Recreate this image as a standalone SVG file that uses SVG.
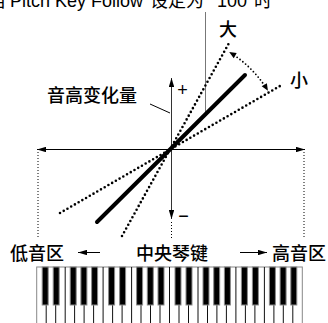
<svg xmlns="http://www.w3.org/2000/svg" width="328" height="323" viewBox="0 0 328 323">
  <style>
    .lbl { font-family: "Liberation Sans", "Noto Sans CJK SC", sans-serif; font-size: 18px; fill: #000; }
    .cjk { font-family: "Noto Sans CJK SC", "Liberation Sans", sans-serif; font-size: 18px; font-weight: 500; fill: #000; }
    .dots { fill: none; stroke: #000; stroke-width: 2.6; stroke-linecap: round; stroke-dasharray: 0 4.3; }
    .fine { fill: none; stroke: #000; stroke-width: 1; stroke-dasharray: 1 2; }
    .axis { fill: none; stroke: #000; stroke-width: 1; }
    .wkey { stroke: #111; stroke-width: 1; }
    .bkey { fill: #000; stroke: #8a8a8a; stroke-width: 1; }
  </style>
  <defs>
    <marker id="ah" viewBox="0 0 10 6" refX="10" refY="3" markerUnits="userSpaceOnUse" markerWidth="9" markerHeight="5.5" orient="auto-start-reverse">
      <path d="M0,0 L10,3 L0,6 Z" fill="#000"/>
    </marker>
  </defs>
  <rect width="328" height="323" fill="#fff"/>

  <!-- heading, clipped by the top edge -->
  <g id="title">
    <text class="lbl" y="7" font-size="19.5"><tspan x="-12" font-family="Noto Sans CJK SC, sans-serif">当</tspan><tspan x="10">Pitch Key Follow</tspan><tspan x="150" font-family="Noto Sans CJK SC, sans-serif">设定为</tspan><tspan x="217">100</tspan><tspan x="254" font-family="Noto Sans CJK SC, sans-serif">时</tspan></text>
  </g>

  <g id="connectors">
    <!-- leader from heading down to the key-follow curve -->
    <line x1="205.5" y1="12" x2="205.5" y2="112" stroke="#777" stroke-width="1"/>
    <!-- horizontal axis (keyboard range) -->
    <line class="axis" x1="37" y1="149.5" x2="305" y2="149.5" marker-start="url(#ah)" marker-end="url(#ah)"/>
    <!-- vertical axis (pitch change) -->
    <line x1="171.5" y1="78" x2="171.5" y2="219" stroke="#333" stroke-width="1" marker-start="url(#ah)" marker-end="url(#ah)"/>
    <!-- range guides -->
    <line class="fine" x1="38" y1="152" x2="38" y2="237"/>
    <line class="fine" x1="304" y1="152" x2="304" y2="237"/>
    <line class="fine" x1="171.5" y1="222" x2="171.5" y2="238"/>
    <!-- steep and shallow slopes -->
    <line class="dots" x1="122" y1="236" x2="229" y2="43"/>
    <line class="dots" x1="60" y1="213" x2="280" y2="86"/>
    <!-- 100 curve -->
    <line x1="97" y1="222" x2="245" y2="75" stroke="#000" stroke-width="4" stroke-linecap="round"/>
    <!-- label leader -->
    <line x1="150" y1="104" x2="170" y2="113" stroke="#000" stroke-width="1"/>
    <!-- slope range arc -->
    <path d="M234.2,55.3 A113,113 0 0 1 264.7,85.8" fill="none" stroke="#000" stroke-width="1.8" stroke-linecap="round" stroke-dasharray="0 3.6"/>
    <polygon points="229.2,52.1 236.7,53.1 233.7,58.3" fill="#000"/>
    <polygon points="267.9,90.8 261.7,86.3 266.9,83.3" fill="#000"/>
    <!-- direction arrows -->
    <line class="axis" x1="78" y1="252.5" x2="100" y2="252.5" marker-start="url(#ah)"/>
    <line class="axis" x1="240" y1="252.5" x2="267" y2="252.5" marker-end="url(#ah)"/>
  </g>

  <g id="labels">
    <text class="cjk" x="228" y="35.5" text-anchor="middle">大</text>
    <text class="cjk" x="299" y="87" text-anchor="middle">小</text>
    <text class="cjk" x="47" y="102">音高变化量</text>
    <text class="lbl" x="182.5" y="95.5" text-anchor="middle" font-size="20">+</text>
    <text class="lbl" x="183.5" y="222" text-anchor="middle" font-size="20">−</text>
    <text class="cjk" x="10" y="260">低音区</text>
    <text class="cjk" x="172" y="260" text-anchor="middle">中央琴键</text>
    <text class="cjk" x="272" y="260">高音区</text>
  </g>

  <g id="keyboard">
    <rect x="36.7" y="267" width="265.6" height="60" fill="#fff" stroke="#888" stroke-width="1"/>
    <g class="wkey">
      <line x1="46.2" y1="267" x2="46.2" y2="323"/>
      <line x1="55.7" y1="267" x2="55.7" y2="323"/>
      <line x1="65.2" y1="267" x2="65.2" y2="323"/>
      <line x1="74.6" y1="267" x2="74.6" y2="323"/>
      <line x1="84.1" y1="267" x2="84.1" y2="323"/>
      <line x1="93.6" y1="267" x2="93.6" y2="323"/>
      <line x1="103.1" y1="267" x2="103.1" y2="323"/>
      <line x1="112.6" y1="267" x2="112.6" y2="323"/>
      <line x1="122.1" y1="267" x2="122.1" y2="323"/>
      <line x1="131.6" y1="267" x2="131.6" y2="323"/>
      <line x1="141.0" y1="267" x2="141.0" y2="323"/>
      <line x1="150.5" y1="267" x2="150.5" y2="323"/>
      <line x1="160.0" y1="267" x2="160.0" y2="323"/>
      <line x1="169.5" y1="267" x2="169.5" y2="323"/>
      <line x1="179.0" y1="267" x2="179.0" y2="323"/>
      <line x1="188.5" y1="267" x2="188.5" y2="323"/>
      <line x1="198.0" y1="267" x2="198.0" y2="323"/>
      <line x1="207.5" y1="267" x2="207.5" y2="323"/>
      <line x1="216.9" y1="267" x2="216.9" y2="323"/>
      <line x1="226.4" y1="267" x2="226.4" y2="323"/>
      <line x1="235.9" y1="267" x2="235.9" y2="323"/>
      <line x1="245.4" y1="267" x2="245.4" y2="323"/>
      <line x1="254.9" y1="267" x2="254.9" y2="323"/>
      <line x1="264.4" y1="267" x2="264.4" y2="323"/>
      <line x1="273.9" y1="267" x2="273.9" y2="323"/>
      <line x1="283.3" y1="267" x2="283.3" y2="323"/>
      <line x1="292.8" y1="267" x2="292.8" y2="323"/>
    </g>
    <g>
      <rect class="bkey" x="42.2" y="267" width="6" height="38"/>
      <rect class="bkey" x="53.2" y="267" width="6" height="38"/>
      <rect class="bkey" x="70.2" y="267" width="6" height="38"/>
      <rect class="bkey" x="80.9" y="267" width="6" height="38"/>
      <rect class="bkey" x="91.6" y="267" width="6" height="38"/>
      <rect class="bkey" x="108.6" y="267" width="6" height="38"/>
      <rect class="bkey" x="119.6" y="267" width="6" height="38"/>
      <rect class="bkey" x="136.6" y="267" width="6" height="38"/>
      <rect class="bkey" x="147.3" y="267" width="6" height="38"/>
      <rect class="bkey" x="158.0" y="267" width="6" height="38"/>
      <rect class="bkey" x="175.0" y="267" width="6" height="38"/>
      <rect class="bkey" x="186.0" y="267" width="6" height="38"/>
      <rect class="bkey" x="203.0" y="267" width="6" height="38"/>
      <rect class="bkey" x="213.7" y="267" width="6" height="38"/>
      <rect class="bkey" x="224.4" y="267" width="6" height="38"/>
      <rect class="bkey" x="241.4" y="267" width="6" height="38"/>
      <rect class="bkey" x="252.4" y="267" width="6" height="38"/>
      <rect class="bkey" x="269.4" y="267" width="6" height="38"/>
      <rect class="bkey" x="280.1" y="267" width="6" height="38"/>
      <rect class="bkey" x="290.8" y="267" width="6" height="38"/>
    </g>
  </g>
</svg>
